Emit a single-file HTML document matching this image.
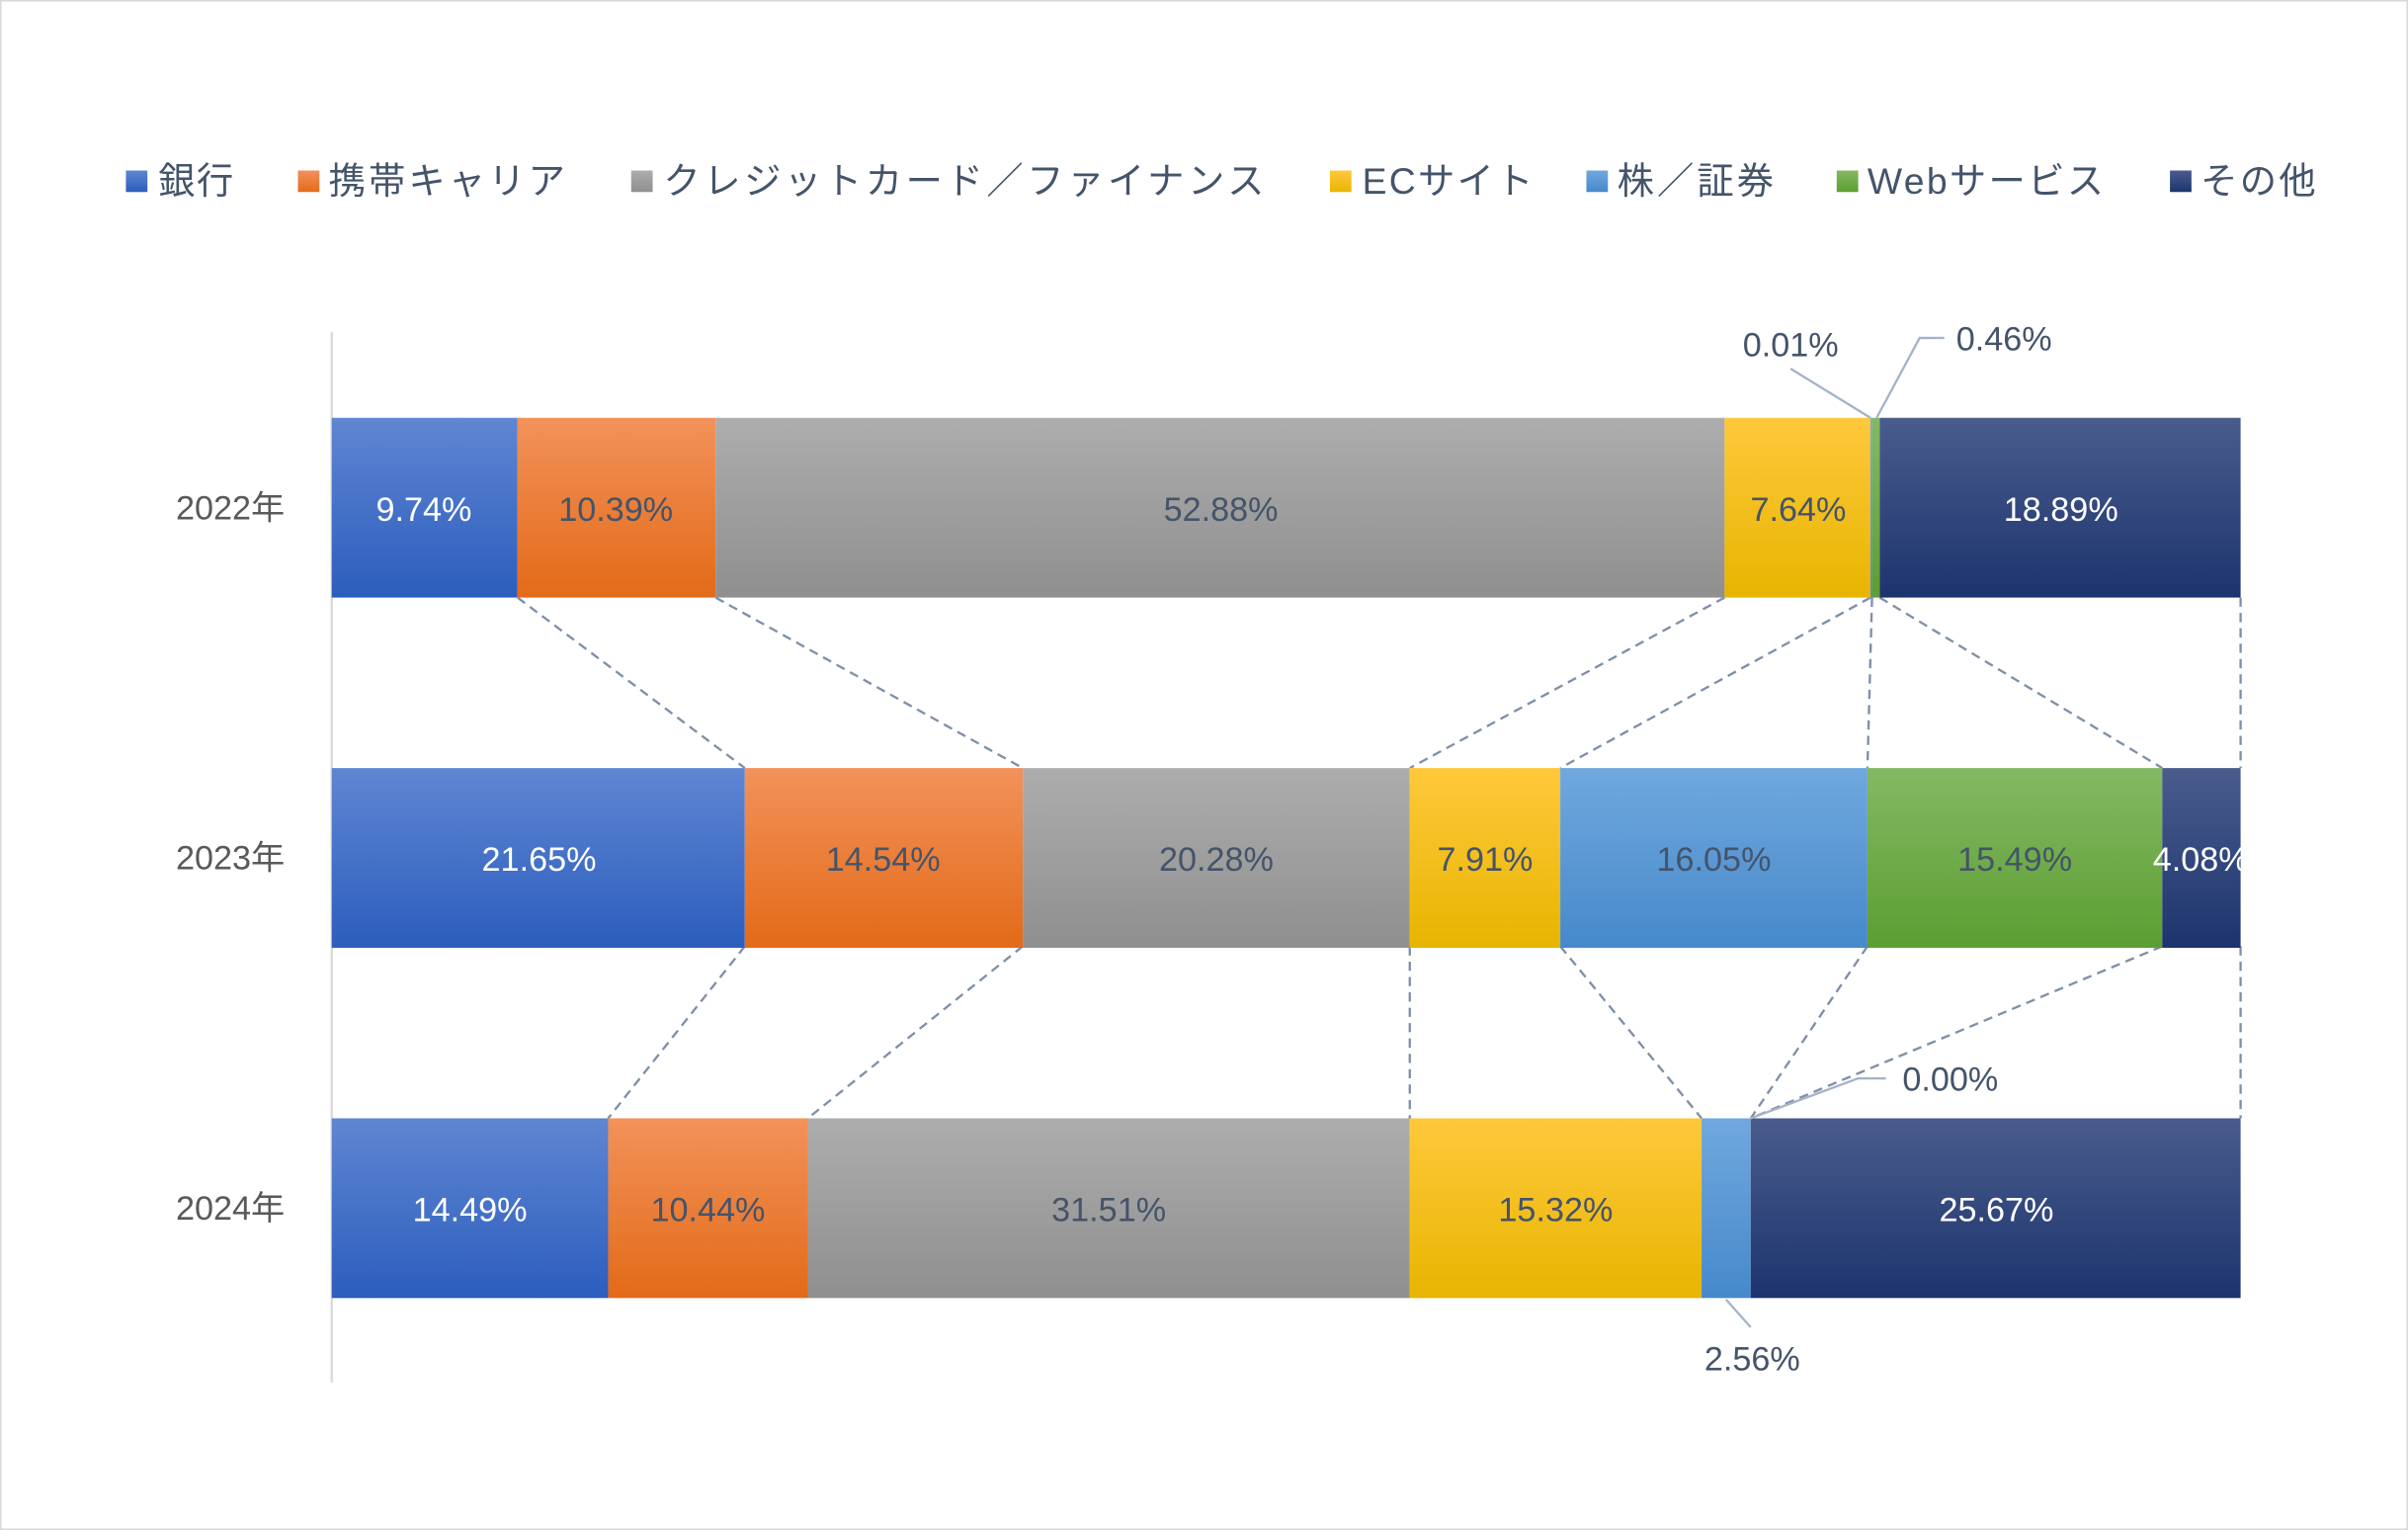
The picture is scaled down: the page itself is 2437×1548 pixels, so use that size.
<!DOCTYPE html>
<html><head><meta charset="utf-8"><style>
html,body{margin:0;padding:0;background:#fff}
svg{display:block}
text{font-family:"Liberation Sans","Noto Sans CJK JP",sans-serif}
</style></head><body>
<svg width="2437" height="1548" viewBox="0 0 1568 996" xmlns="http://www.w3.org/2000/svg">
<defs>
<linearGradient id="bl" x1="0" y1="0" x2="0" y2="1"><stop offset="0" stop-color="#5f86d2"/><stop offset="1" stop-color="#2c5dbd"/></linearGradient>
<linearGradient id="or" x1="0" y1="0" x2="0" y2="1"><stop offset="0" stop-color="#f2925a"/><stop offset="1" stop-color="#e36a18"/></linearGradient>
<linearGradient id="gr" x1="0" y1="0" x2="0" y2="1"><stop offset="0" stop-color="#adadad"/><stop offset="1" stop-color="#8f8f8f"/></linearGradient>
<linearGradient id="ye" x1="0" y1="0" x2="0" y2="1"><stop offset="0" stop-color="#ffc83c"/><stop offset="1" stop-color="#e7b500"/></linearGradient>
<linearGradient id="lb" x1="0" y1="0" x2="0" y2="1"><stop offset="0" stop-color="#70a8de"/><stop offset="1" stop-color="#4689ca"/></linearGradient>
<linearGradient id="gn" x1="0" y1="0" x2="0" y2="1"><stop offset="0" stop-color="#84b964"/><stop offset="1" stop-color="#5c9e31"/></linearGradient>
<linearGradient id="nv" x1="0" y1="0" x2="0" y2="1"><stop offset="0" stop-color="#4a5c8c"/><stop offset="1" stop-color="#1c346e"/></linearGradient>
</defs>
<rect x="0.5" y="0.5" width="1567" height="995" fill="#fff" stroke="#d9d9d9"/>
<!-- legend -->
<g font-size="24" fill="#44546a">
<rect x="82" y="111" width="14" height="14" fill="url(#bl)"/><text x="103" y="126" letter-spacing="1">銀行</text>
<rect x="194" y="111" width="14" height="14" fill="url(#or)"/><text x="214" y="126" letter-spacing="2">携帯キャリア</text>
<rect x="411" y="111" width="14" height="14" fill="url(#gr)"/><text x="432" y="126" letter-spacing="2.3">クレジットカード／ファイナンス</text>
<rect x="866" y="111" width="14" height="14" fill="url(#ye)"/><text x="887" y="126" letter-spacing="1.5">ECサイト</text>
<rect x="1033" y="111" width="14" height="14" fill="url(#lb)"/><text x="1053" y="126" letter-spacing="2">株／証券</text>
<rect x="1196" y="111" width="14" height="14" fill="url(#gn)"/><text x="1216" y="126" letter-spacing="1.5">Webサービス</text>
<rect x="1413" y="111" width="14" height="14" fill="url(#nv)"/><text x="1433" y="126" letter-spacing="1.5">その他</text>
</g>
<line x1="216" y1="216" x2="216" y2="900" stroke="#d9d9d9" stroke-width="1.5"/>
<!-- connectors -->
<g stroke="#7f8fa8" stroke-width="1.5" stroke-dasharray="6,4" fill="none">
<line x1="337" y1="389" x2="485" y2="500"/><line x1="466" y1="389" x2="666" y2="500"/>
<line x1="1123" y1="389" x2="918" y2="500"/><line x1="1218" y1="389" x2="1016" y2="500"/>
<line x1="1219" y1="389" x2="1216" y2="500"/><line x1="1224" y1="389" x2="1408" y2="500"/>
<line x1="1459" y1="389" x2="1459" y2="500"/>
<line x1="485" y1="616" x2="396" y2="728"/><line x1="666" y1="616" x2="526" y2="728"/>
<line x1="918" y1="616" x2="918" y2="728"/><line x1="1016" y1="616" x2="1108" y2="728"/>
<line x1="1216" y1="616" x2="1140" y2="728"/><line x1="1408" y1="616" x2="1140" y2="728"/>
<line x1="1459" y1="616" x2="1459" y2="728"/>
</g>
<!-- bars -->
<g>
<rect x="216" y="272" width="121" height="117" fill="url(#bl)"/>
<rect x="337" y="272" width="129" height="117" fill="url(#or)"/>
<rect x="466" y="272" width="657" height="117" fill="url(#gr)"/>
<rect x="1123" y="272" width="95" height="117" fill="url(#ye)"/>
<rect x="1218" y="272" width="1" height="117" fill="url(#lb)"/>
<rect x="1219" y="272" width="5" height="117" fill="url(#gn)"/>
<rect x="1224" y="272" width="235" height="117" fill="url(#nv)"/>

<rect x="216" y="500" width="269" height="117" fill="url(#bl)"/>
<rect x="485" y="500" width="181" height="117" fill="url(#or)"/>
<rect x="666" y="500" width="252" height="117" fill="url(#gr)"/>
<rect x="918" y="500" width="98" height="117" fill="url(#ye)"/>
<rect x="1016" y="500" width="200" height="117" fill="url(#lb)"/>
<rect x="1216" y="500" width="192" height="117" fill="url(#gn)"/>
<rect x="1408" y="500" width="51" height="117" fill="url(#nv)"/>

<rect x="216" y="728" width="180" height="117" fill="url(#bl)"/>
<rect x="396" y="728" width="130" height="117" fill="url(#or)"/>
<rect x="526" y="728" width="392" height="117" fill="url(#gr)"/>
<rect x="918" y="728" width="190" height="117" fill="url(#ye)"/>
<rect x="1108" y="728" width="32" height="117" fill="url(#lb)"/>
<rect x="1140" y="728" width="319" height="117" fill="url(#nv)"/>
</g>
<!-- year labels -->
<g font-size="22" fill="#595959" text-anchor="middle">
<text x="150" y="338">2022年</text><text x="150" y="566">2023年</text><text x="150" y="794">2024年</text>
</g>
<!-- value labels -->
<g font-size="22" text-anchor="middle">
<text x="276" y="339" fill="#fff">9.74%</text>
<text x="401" y="339" fill="#44546a">10.39%</text>
<text x="795" y="339" fill="#44546a">52.88%</text>
<text x="1171" y="339" fill="#44546a">7.64%</text>
<text x="1342" y="339" fill="#fff">18.89%</text>

<text x="351" y="567" fill="#fff">21.65%</text>
<text x="575" y="567" fill="#44546a">14.54%</text>
<text x="792" y="567" fill="#44546a">20.28%</text>
<text x="967" y="567" fill="#44546a">7.91%</text>
<text x="1116" y="567" fill="#44546a">16.05%</text>
<text x="1312" y="567" fill="#44546a">15.49%</text>
<text x="1433" y="567" fill="#fff">4.08%</text>

<text x="306" y="795" fill="#fff">14.49%</text>
<text x="461" y="795" fill="#44546a">10.44%</text>
<text x="722" y="795" fill="#44546a">31.51%</text>
<text x="1013" y="795" fill="#44546a">15.32%</text>
<text x="1300" y="795" fill="#fff">25.67%</text>

<text x="1166" y="232" fill="#44546a">0.01%</text>
<text x="1305" y="228" fill="#44546a">0.46%</text>
<text x="1270" y="710" fill="#44546a">0.00%</text>
<text x="1141" y="892" fill="#44546a">2.56%</text>
</g>
<g stroke="#a6b3c6" stroke-width="1.5" fill="none">
<polyline points="1166,240 1218,272"/>
<polyline points="1266,220 1250,220 1222,272"/>
<polyline points="1228,702 1210,702 1140,728"/>
<polyline points="1124,846 1140,864"/>
</g>
</svg>
</body></html>
